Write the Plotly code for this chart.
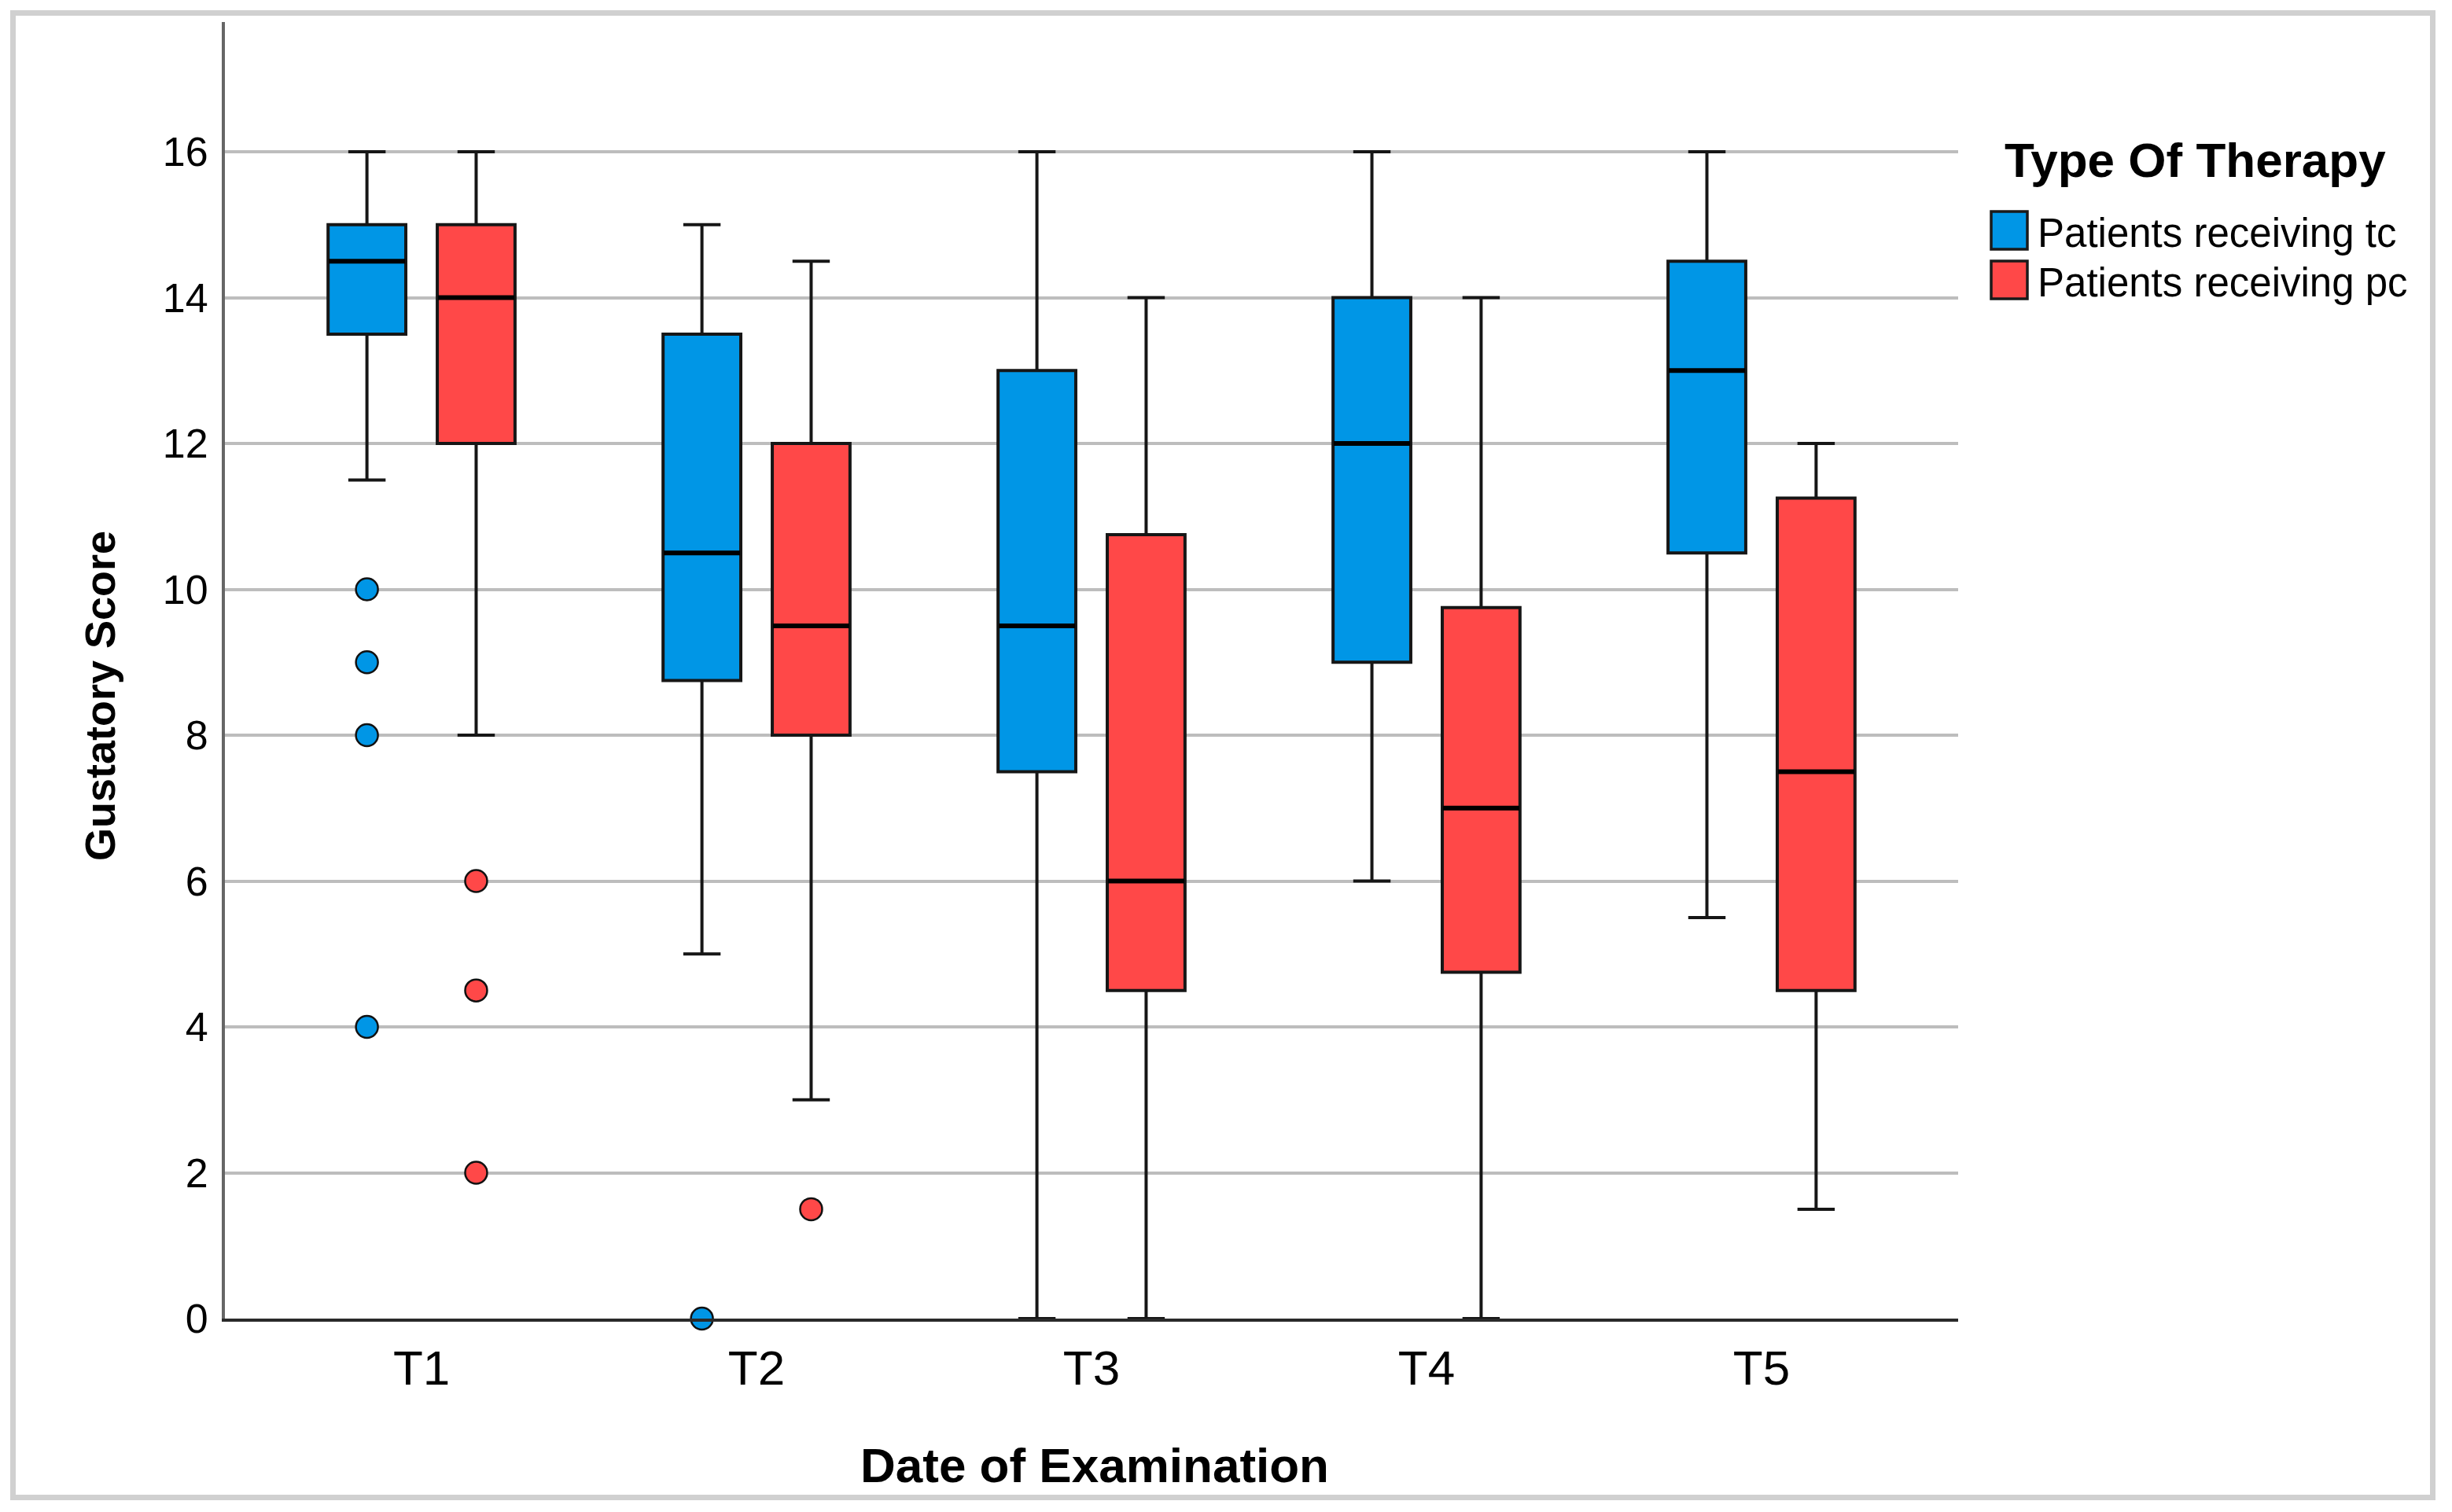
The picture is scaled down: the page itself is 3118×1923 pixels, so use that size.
import plotly.graph_objects as go

# ---------------- data ----------------
times = ["T1", "T2", "T3", "T4", "T5"]
series_names = ["Patients receiving tc", "Patients receiving pc"]

tc_lower = [11.5, 5, 0, 6, 5.5]
tc_q1 = [13.5, 8.75, 7.5, 9, 10.5]
tc_median = [14.5, 10.5, 9.5, 12, 13]
tc_q3 = [15, 13.5, 13, 14, 14.5]
tc_upper = [16, 15, 16, 16, 16]
tc_out_time = ["T1", "T1", "T1", "T1", "T2"]
tc_out_val = [10, 9, 8, 4, 0]

pc_lower = [8, 3, 0, 0, 1.5]
pc_q1 = [12, 8, 4.5, 4.75, 4.5]
pc_median = [14, 9.5, 6, 7, 7.5]
pc_q3 = [15, 12, 10.75, 9.75, 11.25]
pc_upper = [16, 14.5, 14, 14, 12]
pc_out_time = ["T1", "T1", "T1", "T2"]
pc_out_val = [6, 4.5, 2, 1.5]

y_ticks = [0, 2, 4, 6, 8, 10, 12, 14, 16]

# ---------------- style ----------------
W, H = 3118, 1923
L, R, T, B = 286, 2490, 28, 1677
FONT = "Liberation Sans, Arial, sans-serif"
BLUE = "#0096E6"
RED = "#FF4848"
OFF = 0.163
BOXW = 0.232

idx = {t: i for i, t in enumerate(times)}

fig = go.Figure()

groups = [
    (series_names[0], BLUE, -OFF, tc_lower, tc_q1, tc_median, tc_q3, tc_upper, tc_out_time, tc_out_val),
    (series_names[1], RED, OFF, pc_lower, pc_q1, pc_median, pc_q3, pc_upper, pc_out_time, pc_out_val),
]

for name, col, off, lo, q1, med, q3, up, ot, ov in groups:
    xs = [i + off for i in range(len(times))]
    fig.add_trace(go.Box(
        name=name, x=xs,
        lowerfence=lo, q1=q1, median=med, q3=q3, upperfence=up,
        width=BOXW, whiskerwidth=0.48,
        fillcolor=col,
        line=dict(color="#161616", width=4),
        boxpoints=False, showlegend=False, hoverinfo="skip",
    ))
    # thicker median bars
    fig.add_trace(go.Box(
        name=name, x=xs,
        lowerfence=med, q1=med, median=med, q3=med, upperfence=med,
        width=BOXW * 0.985, whiskerwidth=0,
        fillcolor="black",
        line=dict(color="black", width=6),
        boxpoints=False, showlegend=False, hoverinfo="skip",
    ))
    fig.add_trace(go.Scatter(
        name=name,
        x=[idx[t] + off for t in ot], y=ov,
        mode="markers",
        marker=dict(size=28, color=col, line=dict(color="#111111", width=2.5)),
        cliponaxis=False, showlegend=False, hoverinfo="skip",
    ))

def py2paper(py):
    return (B - py) / (B - T)

def px2paper(px):
    return (px - L) / (R - L)

annotations = [
    dict(text="<b>Date of Examination</b>", xref="paper", yref="paper",
         x=px2paper(1392), y=py2paper(1863), xanchor="center", yanchor="middle",
         showarrow=False, font=dict(family=FONT, size=62, color="black")),
    dict(text="<b>Gustatory Score</b>", xref="paper", yref="paper",
         x=px2paper(127), y=py2paper(885), xanchor="center", yanchor="middle",
         textangle=-90, showarrow=False, font=dict(family=FONT, size=54, color="black")),
    dict(text="<b>Type Of Therapy</b>", xref="paper", yref="paper",
         x=px2paper(2791), y=py2paper(204), xanchor="center", yanchor="middle",
         showarrow=False, font=dict(family=FONT, size=62, color="black")),
]
shapes = [
    dict(type="rect", xref="paper", yref="paper",
         x0=px2paper(16.5), x1=px2paper(3093.5), y0=py2paper(16.5), y1=py2paper(1904.5),
         line=dict(color="#D0D0D0", width=7), fillcolor="rgba(0,0,0,0)", layer="below"),
]
leg_rows = [293, 356]
for (name, col, *_), yc in zip(groups, leg_rows):
    shapes.append(dict(type="rect", xref="paper", yref="paper",
                       x0=px2paper(2532), x1=px2paper(2578),
                       y0=py2paper(yc + 24), y1=py2paper(yc - 24),
                       fillcolor=col, line=dict(color="#1a1a1a", width=3.5)))
    annotations.append(dict(text=name, xref="paper", yref="paper",
                            x=px2paper(2589), y=py2paper(yc + 4), xanchor="left", yanchor="middle",
                            showarrow=False, font=dict(family=FONT, size=51, color="black")))

fig.update_layout(
    width=W, height=H,
    margin=dict(l=L, r=W - R, t=T, b=H - B, pad=0),
    paper_bgcolor="white", plot_bgcolor="white",
    showlegend=False,
    annotations=annotations,
    shapes=shapes,
    font=dict(family=FONT, color="black"),
)
fig.update_xaxes(
    range=[-0.587, 4.587], tickvals=list(range(len(times))), ticktext=times,
    showgrid=False, zeroline=False, showline=True, linecolor="#2a2a2a", linewidth=4,
    ticks="", tickfont=dict(family=FONT, size=62, color="black"), ticklabelstandoff=6,
)
fig.update_yaxes(
    range=[0, 17.78], tickvals=y_ticks, showgrid=True, gridcolor="#BDBDBD", gridwidth=3.5,
    zeroline=False, showline=True, linecolor="#666666", linewidth=4,
    ticks="", tickfont=dict(family=FONT, size=52, color="black"), ticklabelstandoff=7,
)

fig.write_html("out.html", config={"displayModeBar": False},
               post_script="document.body.style.margin='0px';")
